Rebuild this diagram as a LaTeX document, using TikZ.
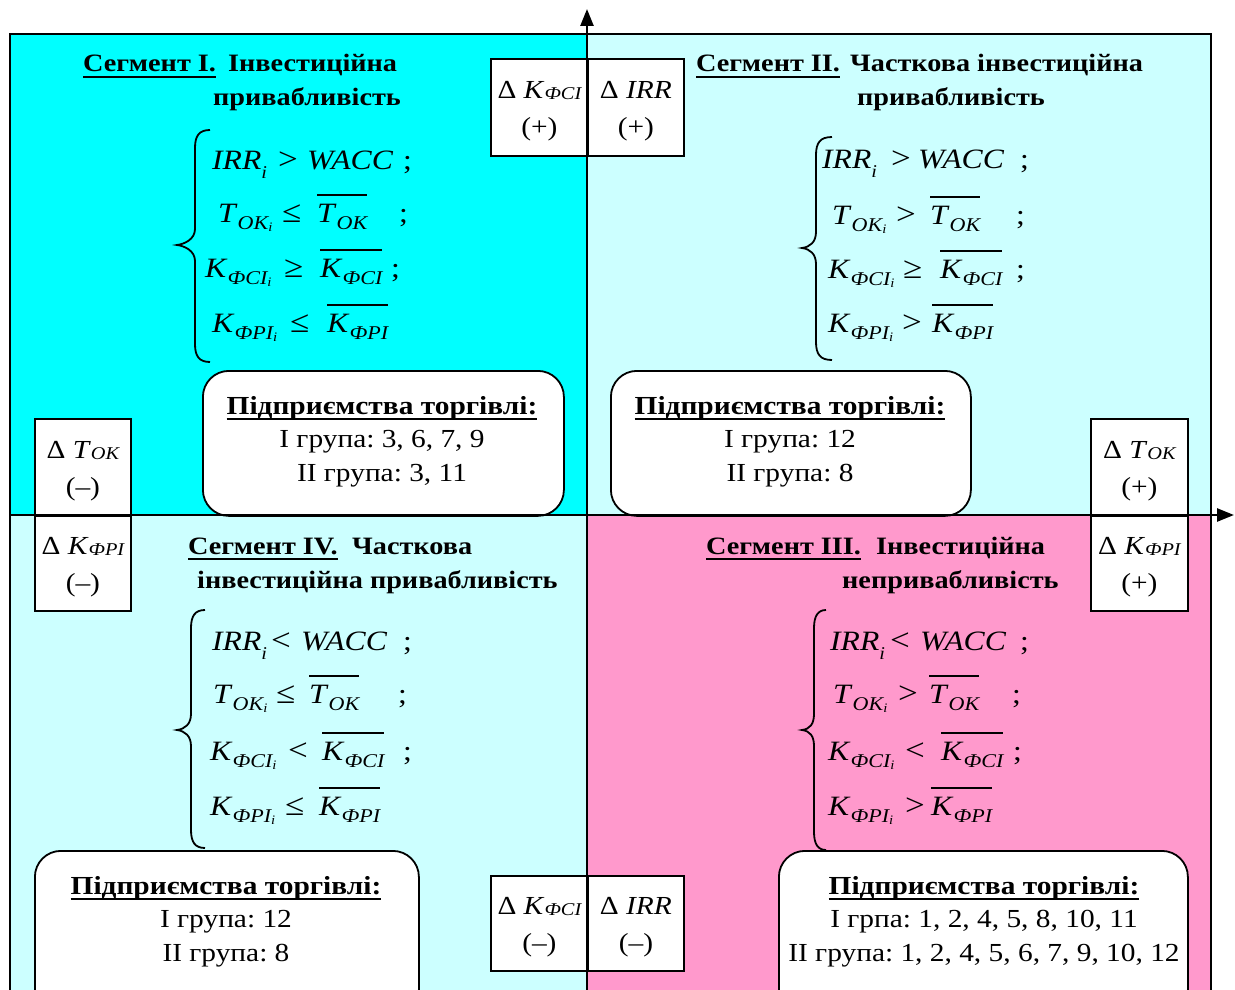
\documentclass[tikz,border=0pt]{standalone}
\usepackage{fontspec}
\setmainfont{Liberation Serif}[FakeStretch=1.13]
\usetikzlibrary{arrows.meta}
\frenchspacing
\definecolor{qcyan}{HTML}{00FFFF}
\definecolor{qlight}{HTML}{CCFFFF}
\definecolor{qpink}{HTML}{FF99CC}
\newcommand\isub[1]{\raisebox{-9pt}{\fontsize{18}{18}\selectfont\itshape #1}}
\newcommand\dsub[1]{\raisebox{-7pt}{\fontsize{19.5}{19.5}\selectfont\itshape #1}}
\newcommand\dsubsub[1]{\raisebox{-2pt}{\fontsize{13}{13}\selectfont\itshape #1}}
\newcommand\bsub[1]{\raisebox{-1pt}{\fontsize{18}{18}\selectfont\itshape #1}}
\newcommand\rel[1]{{\fontsize{31}{31}\selectfont #1}}
\newcommand\ovl[1]{\vbox{\hrule height 1.5pt\kern 8pt\hbox{#1}}}
\newcommand\myul[1]{\setbox0=\hbox{#1}\rlap{\rule[-6pt]{\wd0}{2.4pt}}\box0}
\newcommand\cstrut{\rule{0pt}{25pt}}
\newcommand\eqrow[9]{%
  \node[eqt,anchor=base west] (#1l) at (#3,#2) {#4};
  \node[eqt,anchor=base west] (#1r) at (#5,#2) {\rel{#6}};
  \node[eqt,anchor=base west] (#1h) at (#7,#2) {#8};
  \if\relax\detokenize{#9}\relax\else
  \node[eqt,anchor=base west] (#1s) at (#9,#2) {;};\fi}
\newcommand\bracepath[6]{%
  \draw[brc] (#3,#4) .. controls (#2+4,#4) and (#2,#4+6) .. (#2,#4+18)
    -- (#2,#5-16) .. controls (#2,#5-6) and (#1+8,#5-1) .. (#1,#5)
    .. controls (#1+8,#5+1) and (#2,#5+6) .. (#2,#5+16)
    -- (#2,#6-18) .. controls (#2,#6-6) and (#2+4,#6) .. (#3,#6);}
\newcommand\grp[5]{%
  \node[gtxt,anchor=base] (#1a) at (#2,#3) {\bfseries\myul{Підприємства торгівлі:}};
  \node[gtxt,anchor=base] (#1b) at (#2,#3+33.5) {#4};
  \node[gtxt,anchor=base] (#1c) at (#2,#3+67) {#5};}
\begin{document}
\begin{tikzpicture}[x=1pt,y=-1pt,
  eqt/.style={inner sep=0pt, font=\fontsize{28}{30}\selectfont},
  ttl/.style={inner sep=0pt, anchor=base west, font=\bfseries\fontsize{25}{30}\selectfont},
  cell/.style={draw, line width=1.8pt, fill=white, anchor=north west, inner sep=0pt, align=center, font=\fontsize{26}{37}\selectfont},
  gbox/.style={draw, line width=1.8pt, fill=white, rounded corners=26pt, anchor=north west, inner sep=0pt},
  gtxt/.style={inner sep=0pt, font=\fontsize{26}{33.5}\selectfont},
  brc/.style={line width=1.8pt},
  axis/.style={line width=2.5pt, -{Triangle[length=17pt,width=13pt]}}
]
\useasboundingbox (0,0) rectangle (1235,990);
\clip (0,0) rectangle (1235,990);
% quadrants
\fill[qcyan] (10,34) rectangle (587,515);
\fill[qlight] (587,34) rectangle (1211,515);
\fill[qlight] (10,515) rectangle (587,990);
\fill[qpink] (587,515) rectangle (1211,990);
\draw[line width=2pt] (10,995) -- (10,34) -- (1211,34) -- (1211,995);
% rounded boxes
\node[gbox, minimum width=361pt, minimum height=145pt] (g1) at (202,370) {};
\node[gbox, minimum width=360pt, minimum height=145pt] (g2) at (610,370) {};
\node[gbox, minimum width=384pt, minimum height=165pt] (g4) at (34,850) {};
\node[gbox, minimum width=409pt, minimum height=165pt] (g3) at (778,850) {};
% braces
\bracepath{177}{195}{210}{130}{245}{362}
\bracepath{802}{816}{832}{137}{248}{360}
\bracepath{177}{191}{205}{610}{730}{848}
\bracepath{802}{814}{826}{610}{730}{850}
% Q1 equations
\eqrow{a1}{169}{212}{\textit{IRR}\isub{i}}{278}{>}{307}{\textit{WACC}}{403}
\eqrow{a2}{222}{218}{\textit{T}\dsub{OK\dsubsub{i}}}{282}{≤}{317}{\ovl{\textit{T}\dsub{OK}}}{399}
\eqrow{a3}{277}{205}{\textit{K}\dsub{ФCI\dsubsub{i}}}{284}{≥}{320}{\ovl{\textit{K}\dsub{ФCI}}}{391}
\eqrow{a4}{332}{212}{\textit{K}\dsub{ФPI\dsubsub{i}}}{290}{≤}{327}{\ovl{\textit{K}\dsub{ФPI}}}{}
% Q2 equations
\eqrow{b1}{168}{822}{\textit{IRR}\isub{i}}{891}{>}{918}{\textit{WACC}}{1020}
\eqrow{b2}{224}{832}{\textit{T}\dsub{OK\dsubsub{i}}}{896}{>}{930}{\ovl{\textit{T}\dsub{OK}}}{1016}
\eqrow{b3}{278}{828}{\textit{K}\dsub{ФCI\dsubsub{i}}}{903}{≥}{940}{\ovl{\textit{K}\dsub{ФCI}}}{1016}
\eqrow{b4}{332}{828}{\textit{K}\dsub{ФPI\dsubsub{i}}}{902}{>}{932}{\ovl{\textit{K}\dsub{ФPI}}}{}
% Q4 equations
\eqrow{d1}{650}{212}{\textit{IRR}\isub{i}}{271}{<}{301}{\textit{WACC}}{403}
\eqrow{d2}{703}{213}{\textit{T}\dsub{OK\dsubsub{i}}}{276}{≤}{309}{\ovl{\textit{T}\dsub{OK}}}{398}
\eqrow{d3}{760}{210}{\textit{K}\dsub{ФCI\dsubsub{i}}}{288}{<}{322}{\ovl{\textit{K}\dsub{ФCI}}}{403}
\eqrow{d4}{815}{210}{\textit{K}\dsub{ФPI\dsubsub{i}}}{285}{≤}{319}{\ovl{\textit{K}\dsub{ФPI}}}{}
% Q3 equations
\eqrow{c1}{650}{830}{\textit{IRR}\isub{i}}{890}{<}{920}{\textit{WACC}}{1020}
\eqrow{c2}{703}{833}{\textit{T}\dsub{OK\dsubsub{i}}}{898}{>}{929}{\ovl{\textit{T}\dsub{OK}}}{1012}
\eqrow{c3}{760}{828}{\textit{K}\dsub{ФCI\dsubsub{i}}}{905}{<}{941}{\ovl{\textit{K}\dsub{ФCI}}}{1013}
\eqrow{c4}{815}{828}{\textit{K}\dsub{ФPI\dsubsub{i}}}{905}{>}{931}{\ovl{\textit{K}\dsub{ФPI}}}{}
% titles
\node[ttl] (t1a) at (83,72) {\myul{Сегмент I.}};
\node[ttl] (t1b) at (228,72) {Інвестиційна};
\node[ttl] (t1c) at (213,106) {привабливість};
\node[ttl] (t2a) at (696,72) {\myul{Сегмент II.}};
\node[ttl] (t2b) at (850,72) {Часткова інвестиційна};
\node[ttl] (t2c) at (857,106) {привабливість};
\node[ttl] (t4a) at (188,554) {\myul{Сегмент IV.}};
\node[ttl] (t4b) at (352,554) {Часткова};
\node[ttl] (t4c) at (197,588) {інвестиційна привабливість};
\node[ttl] (t3a) at (706,554) {\myul{Сегмент III.}};
\node[ttl] (t3b) at (876,554) {Інвестиційна};
\node[ttl] (t3c) at (842,588) {непривабливість};
% group texts
\grp{q1}{382}{414}{І група: 3, 6, 7, 9}{ІІ група: 3, 11}
\grp{q2}{790}{414}{І група: 12}{ІІ група: 8}
\grp{q4}{226}{894}{І група: 12}{ІІ група: 8}
\grp{q3}{984}{894}{І грпа: 1, 2, 4, 5, 8, 10, 11}{ІІ група: 1, 2, 4, 5, 6, 7, 9, 10, 12}
% cells
\node[cell, minimum width=97pt, minimum height=97pt] (tcl) at (490,58) {\cstrut Δ \textit{K}\bsub{ФCI}\\(+)};
\node[cell, minimum width=96pt, minimum height=97pt] (tcr) at (587,58) {\cstrut Δ \textit{IRR}\\(+)};
\node[cell, minimum width=97pt, minimum height=95pt] (bcl) at (490,875) {\cstrut Δ \textit{K}\bsub{ФCI}\\(–)};
\node[cell, minimum width=96pt, minimum height=95pt] (bcr) at (587,875) {\cstrut Δ \textit{IRR}\\(–)};
\node[cell, minimum width=96pt, minimum height=97pt] (lt) at (34,418) {\cstrut Δ \textit{T}\bsub{OK}\\(–)};
\node[cell, minimum width=96pt, minimum height=95pt] (lb) at (34,515) {\cstrut Δ \textit{K}\bsub{ФPI}\\(–)};
\node[cell, minimum width=97pt, minimum height=97pt] (rt) at (1090,418) {\cstrut Δ \textit{T}\bsub{OK}\\(+)};
\node[cell, minimum width=97pt, minimum height=95pt] (rb) at (1090,515) {\cstrut Δ \textit{K}\bsub{ФPI}\\(+)};
% axes
\coordinate (vy0) at (587,995);
\coordinate (vy1) at (587,9);
\coordinate (hx0) at (10,515);
\coordinate (hx1) at (1234,515);
\draw[axis] (vy0) -- (vy1);
\draw[axis] (hx0) -- (hx1);
\end{tikzpicture}
\end{document}
